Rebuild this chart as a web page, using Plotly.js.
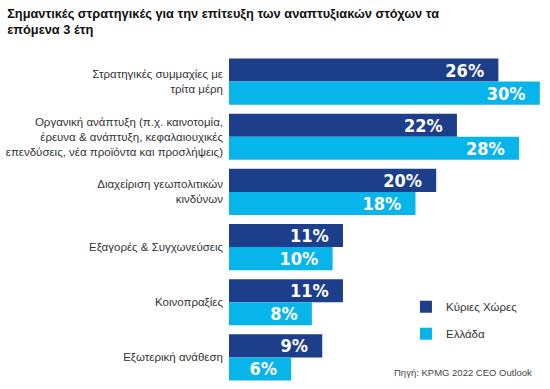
<!DOCTYPE html>
<html>
<head>
<meta charset="utf-8">
<script src="https://cdn.plot.ly/plotly-3.0.1.min.js"></script>
<style>
html,body{margin:0;padding:0;background:#fff;}
#chart{width:550px;height:389px;}
#chart .bartext text, #chart text.bartext { font-stretch: condensed !important; }
#chart .legend path.legendbar { d: path("M8,8H-8V-8H8Z"); }
</style>
</head>
<body>
<div id="chart"></div>
<script>
const categories = [
  "Στρατηγικές συμμαχίες με<br>τρίτα μέρη",
  "Οργανική ανάπτυξη (π.χ. καινοτομία,<br>έρευνα & ανάπτυξη, κεφαλαιουχικές<br>επενδύσεις, νέα προϊόντα και προσλήψεις)",
  "Διαχείριση γεωπολιτικών<br>κινδύνων",
  "Εξαγορές & Συγχωνεύσεις",
  "Κοινοπραξίες",
  "Εξωτερική ανάθεση"
];
const seriesNames = ["Κύριες Χώρες", "Ελλάδα"];
const mainCountries = [26, 22, 20, 11, 11, 9];
const greece = [30, 28, 18, 10, 8, 6];

const colors = ["#1d3e8a", "#08b5ea"];
const pad = "\u00a0\u00a0";

const textFont = {family: "Liberation Sans Narrow, DejaVu Sans Condensed, DejaVu Sans, sans-serif", size: 18, color: "#ffffff", weight: 700};

const traces = [mainCountries, greece].map((vals, i) => ({
  type: "bar",
  orientation: "h",
  name: seriesNames[i],
  y: categories,
  x: vals,
  marker: {color: colors[i], line: {width: 0}},
  text: vals.map(v => v + "%" + pad),
  textposition: "inside",
  insidetextanchor: "end",
  textfont: textFont,
  constraintext: "none",
  legendgroup: "g" + i,
  hoverinfo: "skip"
}));

const layout = {
  width: 550,
  height: 389,
  margin: {l: 229, r: 5, t: 53.5, b: 3.5},
  paper_bgcolor: "#ffffff",
  plot_bgcolor: "#ffffff",
  font: {family: "Liberation Sans, Arial, sans-serif", color: "#333333", size: 11.5},
  title: {
    text: "<b>Σημαντικές στρατηγικές για την επίτευξη των αναπτυξιακών στόχων τα<br>επόμενα 3 έτη</b>",
    font: {family: "Liberation Sans, Arial, sans-serif", size: 12.8, color: "#111111"},
    xref: "container", x: 0.013, xanchor: "left",
    yref: "container", y: 0.955, yanchor: "top"
  },
  barmode: "group",
  bargap: 0.164,
  bargroupgap: 0,
  xaxis: {range: [0, 30.5], visible: false, fixedrange: true},
  yaxis: {
    type: "category",
    autorange: "reversed",
    showgrid: false,
    zeroline: false,
    showline: false,
    ticks: "",
    ticklabelstandoff: 5,
    tickfont: {size: 11.5, color: "#333333"}
  },
  showlegend: true,
  legend: {
    x: 0.56, xanchor: "left",
    y: 0.28, yanchor: "top",
    traceorder: "grouped",
    tracegroupgap: 8,
    font: {size: 11.5, color: "#333333"},
    bgcolor: "rgba(0,0,0,0)"
  },
  annotations: [{
    text: "Πηγή: KPMG 2022 CEO Outlook",
    xref: "paper", yref: "paper",
    x: 0.965, xanchor: "right",
    y: 0.038, yanchor: "middle",
    showarrow: false,
    font: {size: 9.5, color: "#444444"}
  }]
};

Plotly.newPlot("chart", traces, layout, {displayModeBar: false, staticPlot: true});
</script>
</body>
</html>
